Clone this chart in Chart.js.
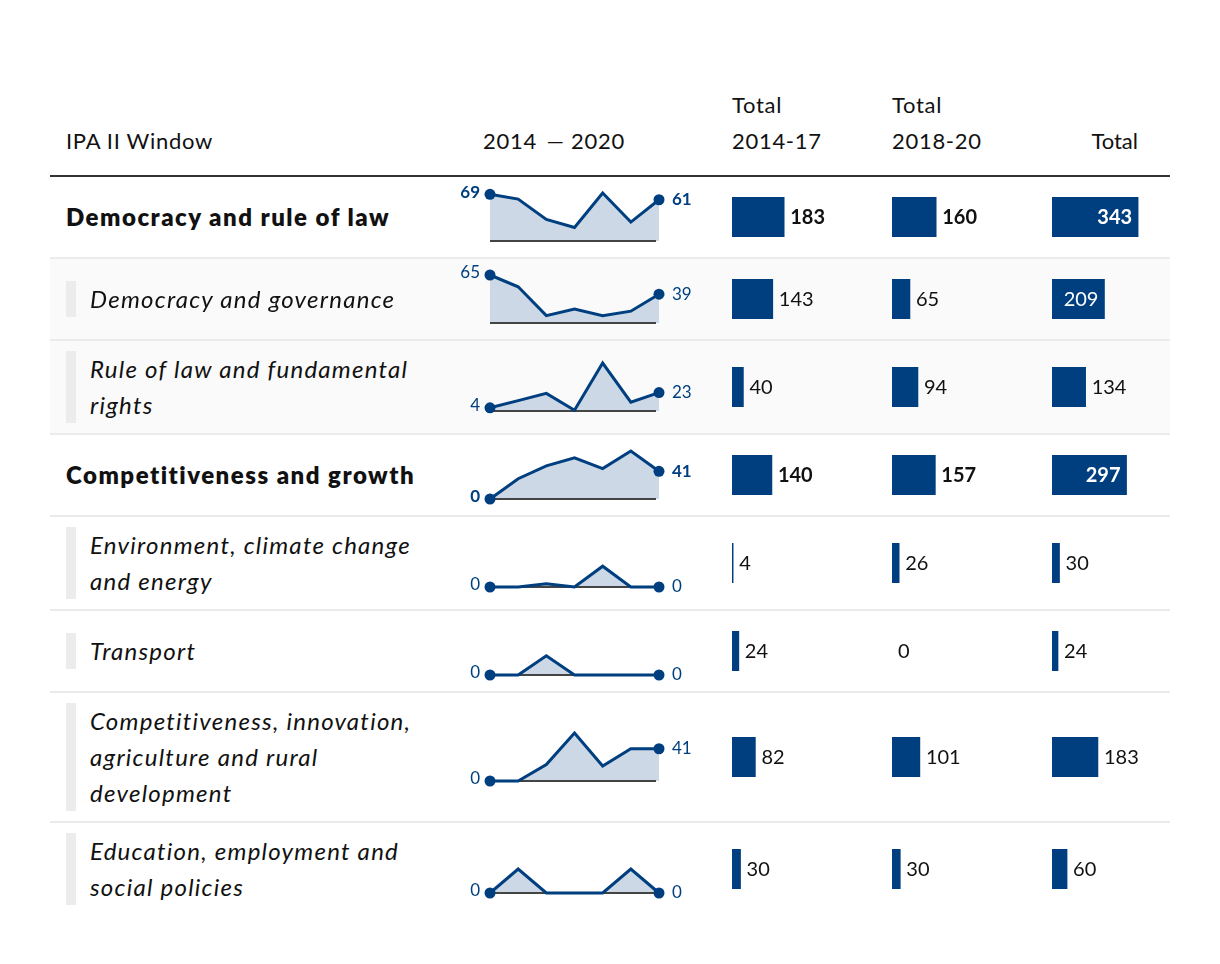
<!DOCTYPE html>
<html>
<head>
<meta charset="utf-8">
<script src="https://cdn.jsdelivr.net/npm/chart.js@4.4.1/dist/chart.umd.min.js"></script>
<style>
  body { margin: 0; background: #fff; font-family: Lato, "Open Sans", sans-serif; color: #111; }
  #wrap { position: absolute; left: 50px; top: 87px; width: 1120px; }
  .row { display: flex; align-items: center; box-sizing: border-box; }
  .head { font-size: 22px; line-height: 36px; letter-spacing: 0.7px; align-items: flex-end; padding-bottom: 16px; border-bottom: 2px solid #333; }
  .body-row { padding: 10px 0; min-height: 82px; border-bottom: 2px solid #ebebeb; }
  .body-row:last-child { border-bottom: none; }
  .shaded { background: #fafafa; }
  .c-label { width: 390px; padding-left: 16px; box-sizing: border-box; }
  .c-spark { width: 280px; height: 60px; }
  .c-spark canvas { margin-top: -12px; }
  .c-bar { width: 160px; padding-left: 12px; box-sizing: border-box; }
  .c-tot { width: 130px; padding-left: 12px; box-sizing: border-box; }
  .head .c-spark { padding-left: 43px; box-sizing: border-box; height: auto; }
  .head .c-tot { text-align: right; padding-right: 32px; letter-spacing: 0; }
  .sector { font-weight: 800; font-size: 24px; line-height: 36px; letter-spacing: 1.5px; }
  .sub { font-style: italic; font-size: 24px; line-height: 36px; letter-spacing: 1.25px; border-left: 10px solid #ececec; padding-left: 14px; white-space: pre-line; }
  canvas { display: block; }
</style>
</head>
<body>
<div id="wrap">
  <div class="row head">
    <div class="c-label">IPA II Window</div>
    <div class="c-spark">2014 &#8201;— 2020</div>
    <div class="c-bar">Total<br>2014-17</div>
    <div class="c-bar">Total<br>2018-20</div>
    <div class="c-tot">Total</div>
  </div>
  <div id="rows"></div>
</div>
<script>
const years = ["2014", "2015", "2016", "2017", "2018", "2019", "2020"];

const rowLabels = [
  "Democracy and rule of law",
  "Democracy and governance",
  "Rule of law and fundamental\nrights",
  "Competitiveness and growth",
  "Environment, climate change\nand energy",
  "Transport",
  "Competitiveness, innovation,\nagriculture and rural\ndevelopment",
  "Education, employment and\nsocial policies",
];
const isSector = [true, false, false, true, false, false, false, false];

// yearly allocations, 2014 to 2020
const democracyRule   = [69, 62, 32, 20, 71, 28, 61];
const democracyGov    = [65, 49, 10, 19, 10, 16, 39];
const ruleOfLaw       = [4, 13, 22, 1, 60, 11, 23];
const competitiveness = [0, 30, 49, 61, 45, 71, 41];
const environment     = [0, 0, 4, 0, 26, 0, 0];
const transport       = [0, 0, 24, 0, 0, 0, 0];
const innovation      = [0, 0, 21, 61, 19, 41, 41];
const education       = [0, 30, 0, 0, 0, 30, 0];
const yearly = [democracyRule, democracyGov, ruleOfLaw, competitiveness,
                environment, transport, innovation, education];

const total1417 = [183, 143, 40, 140, 4, 24, 82, 30];
const total1820 = [160, 65, 94, 157, 26, 0, 101, 30];
const totalAll  = [343, 209, 134, 297, 30, 24, 183, 60];

const BLUE = "#003f7f";
const FILL = "#ccd8e6";
const FONT = "Lato, 'Open Sans', sans-serif";

Chart.defaults.font.family = FONT;

const sparkDecor = {
  id: "sparkDecor",
  beforeDatasetsDraw(chart) {
    const { ctx, chartArea, scales } = chart;
    const y0 = scales.y.getPixelForValue(0);
    ctx.save();
    ctx.strokeStyle = "#444";
    ctx.lineWidth = 2;
    ctx.beginPath();
    ctx.moveTo(chartArea.left, y0);
    ctx.lineTo(chartArea.right - 3, y0);
    ctx.stroke();
    ctx.restore();
  },
  afterDatasetsDraw(chart, args, opts) {
    const { ctx } = chart;
    const pts = chart.getDatasetMeta(0).data;
    const vals = chart.data.datasets[0].data;
    const last = pts.length - 1;
    ctx.save();
    ctx.fillStyle = BLUE;
    ctx.font = (opts.bold ? "700 " : "400 ") + "17px " + FONT;
    ctx.textBaseline = "middle";
    ctx.textAlign = "right";
    ctx.fillText(vals[0], pts[0].x - 10, pts[0].y - 2);
    ctx.textAlign = "left";
    ctx.fillText(vals[last], pts[last].x + 13, pts[last].y);
    ctx.restore();
  },
};

const barValue = {
  id: "barValue",
  afterDatasetsDraw(chart, args, opts) {
    const { ctx } = chart;
    const bar = chart.getDatasetMeta(0).data[0];
    const v = chart.data.datasets[0].data[0];
    const inside = opts.insideOver != null && v >= opts.insideOver;
    ctx.save();
    ctx.font = (opts.bold ? "700 " : "400 ") + "20px " + FONT;
    ctx.textBaseline = "middle";
    if (inside) {
      ctx.fillStyle = "#fff";
      ctx.textAlign = "right";
      ctx.fillText(v, bar.x - 6, bar.y + 1);
    } else {
      ctx.fillStyle = "#111";
      ctx.textAlign = "left";
      ctx.fillText(v, bar.x + 6, bar.y + 1);
    }
    ctx.restore();
  },
};

function sparkline(canvas, values, bold) {
  new Chart(canvas, {
    type: "line",
    data: {
      labels: years,
      datasets: [{
        data: values,
        borderColor: BLUE,
        borderWidth: 3,
        backgroundColor: FILL,
        fill: "origin",
        tension: 0,
        clip: false,
        pointRadius: (c) => (c.dataIndex === 0 || c.dataIndex === values.length - 1) ? 5.5 : 0,
        pointBackgroundColor: BLUE,
        pointBorderWidth: 0,
      }],
    },
    options: {
      responsive: false,
      animation: false,
      layout: { padding: { left: 50, right: 61, top: 18, bottom: 18 } },
      scales: {
        x: { display: false, offset: false },
        y: { display: false, min: 0, max: Math.max(60, ...values) },
      },
      plugins: {
        legend: { display: false },
        tooltip: { enabled: false },
        filler: { drawTime: "beforeDatasetsDraw" },
        sparkDecor: { bold },
      },
    },
    plugins: [sparkDecor],
  });
}

function bar(canvas, value, xMax, bold, insideOver) {
  new Chart(canvas, {
    type: "bar",
    data: {
      labels: [""],
      datasets: [{
        data: [value],
        backgroundColor: value > 0 ? BLUE : "rgba(0,0,0,0)",
        borderWidth: 0,
        barPercentage: 1,
        categoryPercentage: 1,
      }],
    },
    options: {
      indexAxis: "y",
      responsive: false,
      animation: false,
      layout: { padding: 0 },
      scales: {
        x: { display: false, min: 0, max: xMax },
        y: { display: false },
      },
      plugins: {
        legend: { display: false },
        tooltip: { enabled: false },
        barValue: { bold, insideOver },
      },
    },
    plugins: [barValue],
  });
}

const rowsEl = document.getElementById("rows");

rowLabels.forEach((label, i) => {
  const row = document.createElement("div");
  row.className = "row body-row" + (i === 1 || i === 2 ? " shaded" : "");

  const lab = document.createElement("div");
  lab.className = "c-label";
  const txt = document.createElement("div");
  txt.className = isSector[i] ? "sector" : "sub";
  txt.textContent = label;
  lab.appendChild(txt);
  row.appendChild(lab);

  const sp = document.createElement("div");
  sp.className = "c-spark";
  const spc = document.createElement("canvas");
  spc.width = 280; spc.height = 84;
  sp.appendChild(spc);
  row.appendChild(sp);

  const cells = [
    { cls: "c-bar", v: total1417[i], w: 148, max: 519, inside: null },
    { cls: "c-bar", v: total1820[i], w: 148, max: 536, inside: null },
    { cls: "c-tot", v: totalAll[i],  w: 118, max: 470, inside: 200 },
  ];
  const barCanvases = cells.map((c) => {
    const d = document.createElement("div");
    d.className = c.cls;
    const cv = document.createElement("canvas");
    cv.width = c.w; cv.height = 40;
    d.appendChild(cv);
    row.appendChild(d);
    return cv;
  });

  rowsEl.appendChild(row);

  sparkline(spc, yearly[i], isSector[i]);
  cells.forEach((c, k) => bar(barCanvases[k], c.v, c.max, isSector[i], c.inside));
});
</script>
</body>
</html>
